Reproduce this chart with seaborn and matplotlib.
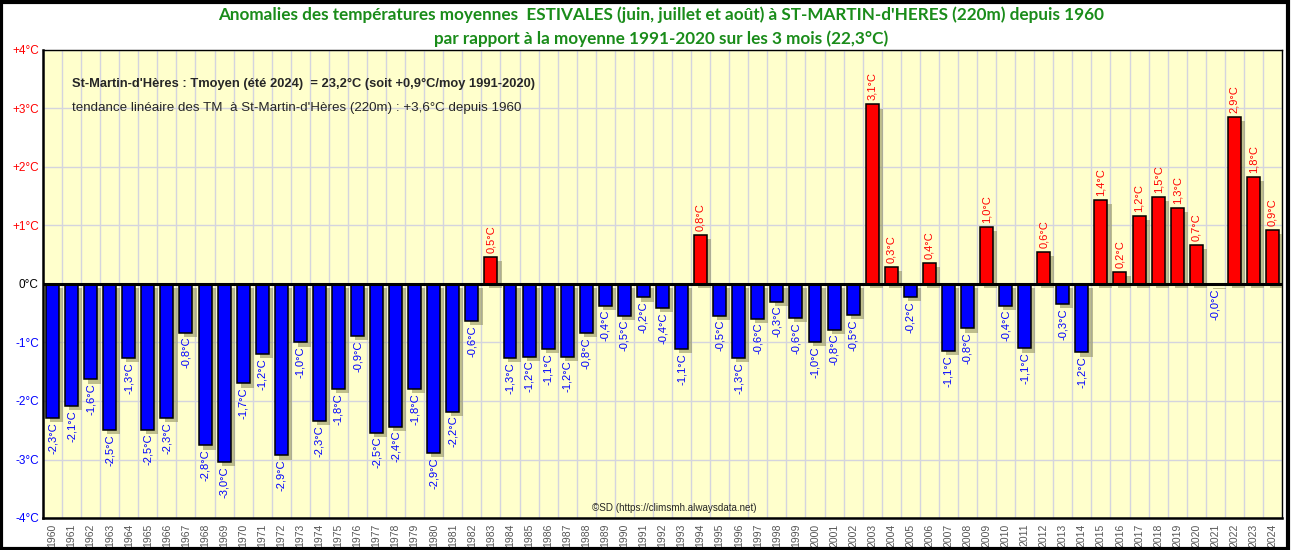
import matplotlib
matplotlib.use("Agg")
import matplotlib.pyplot as plt
import matplotlib.patheffects as pe
from matplotlib.patches import Rectangle
import numpy as np
import pandas as pd
import seaborn as sns

# ---------------------------------------------------------------------------
# Data (anomalies vs 1991-2020 summer mean, degC)
# ---------------------------------------------------------------------------
years = list(range(1960, 2025))
anomalies = [
    -2.29, -2.09, -1.63, -2.50, -1.27, -2.49, -2.29, -0.83, -2.76, -3.04,  # 1960-69
    -1.70, -1.20, -2.93, -1.00, -2.34, -1.80, -0.89, -2.54, -2.44, -1.80,  # 1970-79
    -2.89, -2.18, -0.63, 0.46, -1.27, -1.24, -1.11, -1.24, -0.84, -0.37,   # 1980-89
    -0.54, -0.23, -0.41, -1.11, 0.84, -0.54, -1.27, -0.59, -0.30, -0.58,   # 1990-99
    -0.99, -0.78, -0.53, 3.07, 0.29, -0.22, 0.36, -1.14, -0.76, 0.97,      # 2000-09
    -0.37, -1.10, 0.55, -0.34, -1.17, 1.44, 0.21, 1.16, 1.49, 1.30,        # 2010-19
    0.67, -0.01, 2.86, 1.83, 0.92,                                         # 2020-24
]
y_ticks = [-4, -3, -2, -1, 0, 1, 2, 3, 4]

title = ("Anomalies des températures moyennes  ESTIVALES (juin, juillet et août) "
         "à ST-MARTIN-d'HERES (220m) depuis 1960\n"
         "par rapport à la moyenne 1991-2020 sur les 3 mois (22,3°C)")
note_bold = "St-Martin-d'Hères : Tmoyen (été 2024)  = 23,2°C (soit +0,9°C/moy 1991-2020)"
note_trend = "tendance linéaire des TM  à St-Martin-d'Hères (220m) : +3,6°C depuis 1960"
credit = "©SD (https://climsmh.alwaysdata.net)"

RED = "#ff0000"
BLUE = "#0000ff"
BG = "#ffffcc"
GRID = "#d4d4de"

df = pd.DataFrame({"year": [str(y) for y in years], "anom": anomalies})
df["sign"] = np.where(df["anom"] >= 0, "pos", "neg")

sns.set_theme(style="white")
plt.rcParams["font.family"] = ["Liberation Sans", "DejaVu Sans"]

fig = plt.figure(figsize=(12.91, 5.50), dpi=100)
ax = fig.add_axes([43 / 1291, 1 - 518 / 550, (1282 - 43) / 1291, (518 - 50) / 550])
ax.set_facecolor(BG)

sns.barplot(data=df, x="year", y="anom", hue="sign",
            palette={"pos": RED, "neg": BLUE}, dodge=False, width=0.68,
            saturation=1, edgecolor="black", linewidth=1.1, legend=False,
            ax=ax, zorder=3)

shadow = [pe.SimplePatchShadow(offset=(3, -3), shadow_rgbFace=(0.55, 0.55, 0.35), alpha=0.55),
          pe.Normal()]
for p in ax.patches:
    p.set_path_effects(shadow)

# value labels
for i, v in enumerate(anomalies):
    txt = f"{v:.1f}".replace(".", ",") + "°C"
    if v >= 0:
        ax.text(i, v + 0.07, txt, rotation=90, ha="center", va="bottom",
                color=RED, fontsize=8, zorder=4)
    else:
        ax.text(i, v - 0.07, txt, rotation=90, ha="center", va="top",
                color=BLUE, fontsize=8, zorder=4)

ax.set_xlim(-0.5, len(years) - 0.5)
ax.set_ylim(-4, 4)
ax.set_yticks(y_ticks)
ax.set_yticklabels([("+" if t > 0 else "") + f"{t}°C" for t in y_ticks], fontsize=8.5)
for lab, t in zip(ax.get_yticklabels(), y_ticks):
    lab.set_color(RED if t > 0 else (BLUE if t < 0 else "black"))
ax.tick_params(axis="y", length=0, pad=3)
ax.tick_params(axis="x", length=0, pad=4, labelrotation=90, labelsize=7.5, labelcolor="#555555")
ax.set_xlabel("")
ax.set_ylabel("")

ax.set_xticks(np.arange(-0.5, len(years), 1.0), minor=True)
ax.grid(True, which="minor", axis="x", color=GRID, linewidth=1, zorder=0)
ax.grid(True, which="major", axis="y", color=GRID, linewidth=1, zorder=0)
ax.set_axisbelow(True)
ax.axhline(0, color="black", linewidth=2.2, zorder=5)

for side in ["left", "bottom"]:
    ax.spines[side].set_color("black")
    ax.spines[side].set_linewidth(1.8)
for side in ["top", "right"]:
    ax.spines[side].set_color("black")
    ax.spines[side].set_linewidth(1.0)

ax.text(1.0, 3.42, note_bold, fontsize=9.3, fontweight="bold", ha="left", va="center", zorder=6)
ax.text(1.0, 3.0, note_trend, fontsize=9.6, ha="left", va="center", zorder=6)
ax.text(28.3, -3.83, credit, fontsize=7.1, ha="left", va="center", zorder=6)

fig.text(0.512, 0.988, title, ha="center", va="top", fontsize=12.3, fontweight="bold",
         color="#1a8c1a", linespacing=1.5, family=["Lato", "DejaVu Sans"])

# outer frame
fig.patches.append(Rectangle((0.001, 0.002), 0.997, 0.995, transform=fig.transFigure,
                             fill=False, edgecolor="black", linewidth=3))

fig.savefig("out.png", dpi=100)
